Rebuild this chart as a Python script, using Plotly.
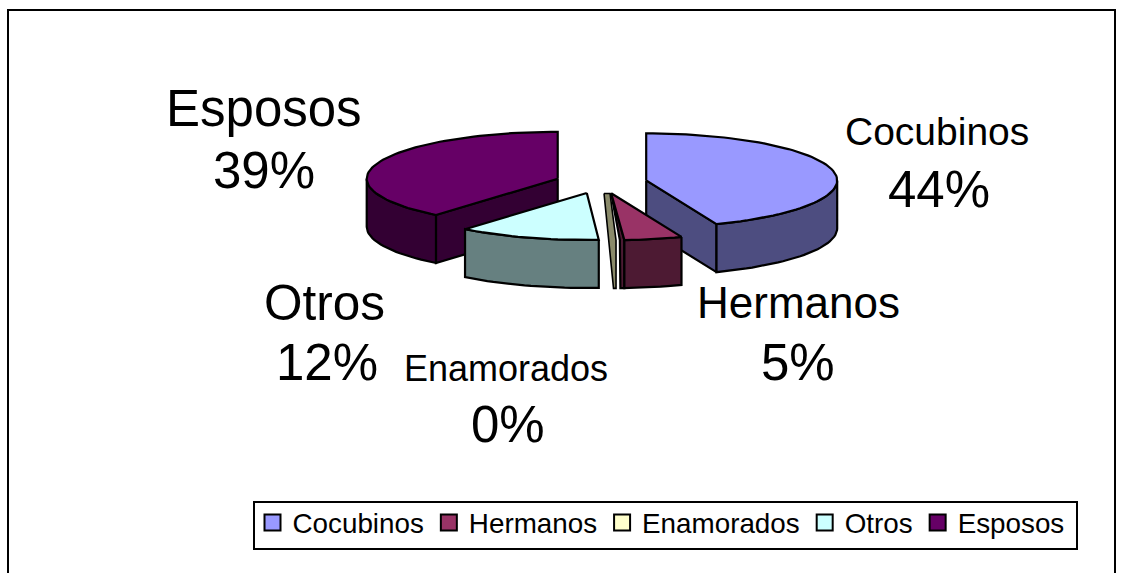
import math
import plotly.graph_objects as go

# Data
categories = ["Cocubinos", "Hermanos", "Enamorados", "Otros", "Esposos"]
values = [44.0, 4.9, 0.1, 12.0, 39.0]

# Styles
top_colors = ["#9999FF", "#993366", "#FFFFCC", "#CCFFFF", "#660066"]
side_colors = ["#4D4D80", "#4D1A33", "#8A8A6A", "#668080", "#330033"]
draw_order = [4, 0, 3, 2, 1]
# inner edge of the narrow cut faces: inset at the bottom and at the rim, in pixels
cut_inset = [None, (4, 4.5), (2.5, None), None, None]
cut_flare = [0, 0, 6, 0, 0]
label_name_pos = [(937, 131, 39), (798, 302, 44), (506, 368, 36), (324, 302, 49.5), (264, 108, 51)]
label_pct_pos = [(939, 189, 51), (798, 362, 51), (508, 424, 51), (327, 362, 51), (264, 170, 51)]

# Pie geometry (pixels on the hidden axes)
CX, CY, RX, RY, DEPTH = 601, 182.5, 191, 47, 48
EXPLODE_X, EXPLODE_Y = 46, 11
W, H = 1123, 573
FONT = "Liberation Sans, Arial, sans-serif"


def rim(apex, deg, dz=0):
    a = math.radians(deg)
    return apex[0] + RX * math.sin(a), apex[1] - RY * math.cos(a) + dz


def arc(apex, a0, a1, dz=0):
    n = max(2, int(abs(a1 - a0) / 2) + 1)
    return [rim(apex, a0 + (a1 - a0) * i / (n - 1), dz) for i in range(n)]


def poly(points, color, width=2.2):
    return go.Scatter(
        x=[p[0] for p in points] + [points[0][0]],
        y=[p[1] for p in points] + [points[0][1]],
        mode="lines", fill="toself", fillcolor=color,
        line=dict(color="black", width=width), showlegend=False, hoverinfo="skip",
    )


total = sum(values)
spans = []
acc = 0.0
for v in values:
    spans.append((acc / total * 360, (acc + v) / total * 360))
    acc += v

fig = go.Figure()

# Chart frame and legend box
fig.add_shape(type="rect", xref="x", yref="y", x0=8, y0=10, x1=1115, y1=590,
              line=dict(color="black", width=2), fillcolor="white", layer="below")
fig.add_shape(type="rect", xref="x", yref="y", x0=254, y0=502, x1=1077, y1=549,
              line=dict(color="black", width=2), fillcolor="white", layer="below")

for i in draw_order:
    a0, a1 = spans[i]
    mid = math.radians((a0 + a1) / 2)
    apex = (CX + EXPLODE_X * math.sin(mid), CY - EXPLODE_Y * math.cos(mid))
    side, top = side_colors[i], top_colors[i]

    # cut face seen from the front
    cut = a1 if 90 < a1 < 180 else (a0 if 180 <= a0 < 270 else None)
    if cut is not None:
        rt, rb = rim(apex, cut), rim(apex, cut, DEPTH)
        pts = [apex]
        if cut_flare[i]:
            pts.append((apex[0] + cut_flare[i], apex[1]))
        pts += [rt, rb]
        inset = cut_inset[i]
        if inset is None:
            pts.append((apex[0], apex[1] + DEPTH))
        else:
            pts.append((rb[0] - inset[0], rb[1]))
            if inset[1] is not None:
                pts.append((rt[0] - inset[1], rt[1]))
        fig.add_trace(poly(pts, side, 1.6 if cut_flare[i] else 2.2))

    # outer wall, front half only
    lo, hi = max(a0, 90), min(a1, 270)
    if hi > lo and not cut_flare[i]:
        fig.add_trace(poly(arc(apex, lo, hi) + arc(apex, hi, lo, DEPTH), side))

    # top face
    if not cut_flare[i]:
        fig.add_trace(poly([apex] + arc(apex, a0, a1), top))

# Legend entries
for name, color in zip(categories, top_colors):
    fig.add_trace(go.Scatter(
        x=[None], y=[None], mode="markers", name=name,
        marker=dict(symbol="square", size=17, color=color, line=dict(color="black", width=2)),
    ))

# Data labels
for name, v, np_, pp in zip(categories, values, label_name_pos, label_pct_pos):
    pct = f"{round(v / total * 100)}%"
    for text, (x, y, size) in ((name, np_), (pct, pp)):
        fig.add_annotation(x=x, y=y, xref="x", yref="y", text=text, showarrow=False,
                           xanchor="center", yanchor="middle",
                           font=dict(family=FONT, size=size, color="black"))

fig.update_layout(
    width=W, height=H, margin=dict(l=0, r=0, t=0, b=0),
    paper_bgcolor="white", plot_bgcolor="white",
    xaxis=dict(range=[0, W], visible=False, fixedrange=True),
    yaxis=dict(range=[H, 0], visible=False, fixedrange=True),
    showlegend=True,
    legend=dict(
        orientation="h", x=252.5 / W, y=1 - 498 / H, xanchor="left", yanchor="top",
        borderwidth=0, bgcolor="rgba(0,0,0,0)",
        font=dict(family=FONT, size=27.8, color="black"),
        itemwidth=30, traceorder="normal",
    ),
)

fig.write_html("out.html", config={"displayModeBar": False},
               post_script="document.body.style.margin='0';document.body.style.overflow='hidden';")
